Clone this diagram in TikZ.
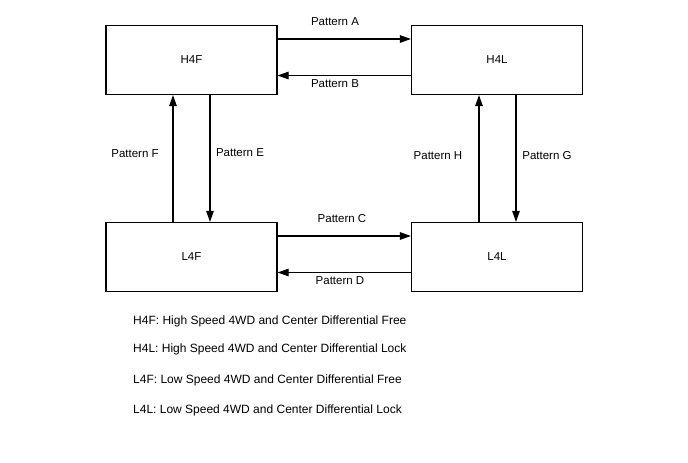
\documentclass[tikz,border=0pt]{standalone}
\usepackage{fontspec}
\setmainfont{Liberation Sans}
\usetikzlibrary{arrows.meta}
\begin{document}
\begin{tikzpicture}[x=1pt,y=-1pt,
  box/.style={draw,line width=1.1pt,minimum width=171pt,minimum height=69pt,inner sep=0pt,font=\fontsize{11.5}{13}\selectfont},
  arr/.style={line width=1.1pt,-{Triangle[length=11pt,width=7.5pt]}},
  lbl/.style={inner sep=0pt,font=\fontsize{11.5}{13}\selectfont},
  leg/.style={inner sep=0pt,anchor=west,font=\fontsize{12}{14}\selectfont}]
\useasboundingbox (0,0) rectangle (688,463);
\node[box] (H4F) at (191.5,60) {H4F};
\node[box] (H4L) at (497,60) {H4L};
\node[box] (L4F) at (191.5,257) {L4F};
\node[box] (L4L) at (497,257) {L4L};
% horizontal
\draw[arr] ([yshift=21pt]H4F.east) -- ([yshift=21pt]H4L.west);
\draw[arr] ([yshift=-15.5pt]H4L.west) -- ([yshift=-15.5pt]H4F.east);
\draw[arr] ([yshift=21pt]L4F.east) -- ([yshift=21pt]L4L.west);
\draw[arr] ([yshift=-15.5pt]L4L.west) -- ([yshift=-15.5pt]L4F.east);
% vertical
\draw[arr] ([xshift=-18.5pt]L4F.north) -- ([xshift=-18.5pt]H4F.south);
\draw[arr] ([xshift=18.5pt]H4F.south) -- ([xshift=18.5pt]L4F.north);
\draw[arr] ([xshift=-18pt]L4L.north) -- ([xshift=-18pt]H4L.south);
\draw[arr] ([xshift=19pt]H4L.south) -- ([xshift=19pt]L4L.north);
% labels
\node[lbl] (pA) at (335,22) {Pattern A};
\node[lbl] (pB) at (335,84) {Pattern B};
\node[lbl] (pC) at (342,219) {Pattern C};
\node[lbl] (pD) at (340,281) {Pattern D};
\node[lbl] (pF) at (135,154) {Pattern F};
\node[lbl] (pE) at (240,153) {Pattern E};
\node[lbl] (pH) at (438,156) {Pattern H};
\node[lbl] (pG) at (547,156) {Pattern G};
% legend
\node[leg] (l1) at (133,321) {H4F: High Speed 4WD and Center Differential Free};
\node[leg] (l2) at (133,349) {H4L: High Speed 4WD and Center Differential Lock};
\node[leg] (l3) at (133,380) {L4F: Low Speed 4WD and Center Differential Free};
\node[leg] (l4) at (133,410) {L4L: Low Speed 4WD and Center Differential Lock};
\end{tikzpicture}
\end{document}
